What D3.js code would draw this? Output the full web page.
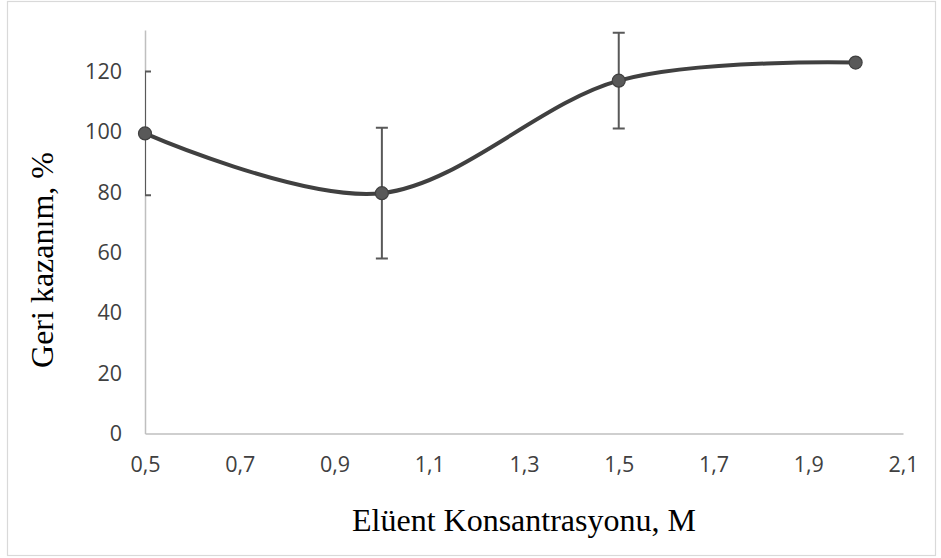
<!DOCTYPE html>
<html>
<head>
<meta charset="utf-8">
<script src="https://cdn.jsdelivr.net/npm/d3@7"></script>
<style>
  body { margin: 0; background: #fff; }
  svg { display: block; }
</style>
</head>
<body>
<div id="chart"></div>
<script>
// Data
var concentration = [0.5, 1.0, 1.5, 2.0];
var recovery = [99.5, 79.7, 117.0, 123.0];
var errorBar = [20.5, 21.7, 15.9, 0];
var xTicks = [0.5, 0.7, 0.9, 1.1, 1.3, 1.5, 1.7, 1.9, 2.1];
var yTicks = [0, 20, 40, 60, 80, 100, 120];

var W = 941, H = 558;
var margin = {top: 30, right: 38, bottom: 124.5, left: 145},
    width = W - margin.left - margin.right,
    height = H - margin.top - margin.bottom;

var svg = d3.select("#chart")
    .append("svg")
    .attr("width", W)
    .attr("height", H);

// outer chart border
svg.append("rect")
    .attr("x", 7.5).attr("y", 1.5)
    .attr("width", 928).attr("height", 554)
    .attr("fill", "none")
    .attr("stroke", "#d9d9d9")
    .attr("stroke-width", 1.2);

var g = svg.append("g")
    .attr("transform", "translate(" + margin.left + "," + margin.top + ")");

var x = d3.scaleLinear().domain([0.5, 2.1]).range([0, width]);
var y = d3.scaleLinear().domain([0, 133.8]).range([height, 0]);

g.append("defs").append("clipPath")
    .attr("id", "plotClip")
    .append("rect")
    .attr("x", 0).attr("y", -5)
    .attr("width", width).attr("height", height + 10);

// axes
var xAxis = g.append("g")
    .attr("transform", "translate(0," + height + ")")
    .call(d3.axisBottom(x).tickValues(xTicks).tickSize(0).tickPadding(23)
        .tickFormat(function (d) { return d3.format(".1f")(d).replace(".", ","); }));
xAxis.select(".domain").attr("stroke", "#bfbfbf").attr("stroke-width", 1.5);

var yAxis = g.append("g")
    .call(d3.axisLeft(y).tickValues(yTicks).tickSize(0).tickPadding(23));
yAxis.select(".domain").attr("stroke", "#bfbfbf").attr("stroke-width", 1.5);

g.selectAll(".tick text")
    .attr("fill", "#404040")
    .style("font-family", "'Open Sans', 'Liberation Sans', sans-serif")
    .style("font-size", "21.5px");

// error bars
var pts = concentration.map(function (c, i) {
    return {x: c, y: recovery[i], e: errorBar[i]};
});

var errG = g.append("g").attr("clip-path", "url(#plotClip)");
var eb = errG.selectAll("g.err")
    .data(pts.filter(function (d) { return d.e > 0; }))
    .enter().append("g")
    .attr("stroke", "#595959")
    .attr("stroke-width", 2);

eb.append("line")
    .attr("x1", function (d) { return x(d.x); })
    .attr("x2", function (d) { return x(d.x); })
    .attr("y1", function (d) { return y(d.y + d.e); })
    .attr("y2", function (d) { return y(d.y - d.e); });
eb.append("line")
    .attr("x1", function (d) { return x(d.x) - 6; })
    .attr("x2", function (d) { return x(d.x) + 6; })
    .attr("y1", function (d) { return y(d.y + d.e); })
    .attr("y2", function (d) { return y(d.y + d.e); });
eb.append("line")
    .attr("x1", function (d) { return x(d.x) - 6; })
    .attr("x2", function (d) { return x(d.x) + 6; })
    .attr("y1", function (d) { return y(d.y - d.e); })
    .attr("y2", function (d) { return y(d.y - d.e); });

// smoothed line
var line = d3.line()
    .x(function (d) { return x(d.x); })
    .y(function (d) { return y(d.y); })
    .curve(d3.curveCardinal.tension(0));

g.append("path")
    .datum(pts)
    .attr("fill", "none")
    .attr("stroke", "#404040")
    .attr("stroke-width", 4)
    .attr("d", line);

// markers
g.selectAll("circle.pt")
    .data(pts)
    .enter().append("circle")
    .attr("class", "pt")
    .attr("cx", function (d) { return x(d.x); })
    .attr("cy", function (d) { return y(d.y); })
    .attr("r", 6.5)
    .attr("fill", "#595959")
    .attr("stroke", "#404040")
    .attr("stroke-width", 1.2);

// axis titles
svg.append("text")
    .attr("x", 524)
    .attr("y", 531)
    .attr("text-anchor", "middle")
    .style("font-family", "'Liberation Serif', 'Times New Roman', serif")
    .style("font-size", "32px")
    .attr("fill", "#000")
    .text("Elüent Konsantrasyonu, M");

svg.append("text")
    .attr("transform", "translate(53," + 260 + ") rotate(-90)")
    .attr("text-anchor", "middle")
    .style("font-family", "'Liberation Serif', 'Times New Roman', serif")
    .style("font-size", "32px")
    .attr("fill", "#000")
    .text("Geri kazanım, %");
</script>
</body>
</html>
